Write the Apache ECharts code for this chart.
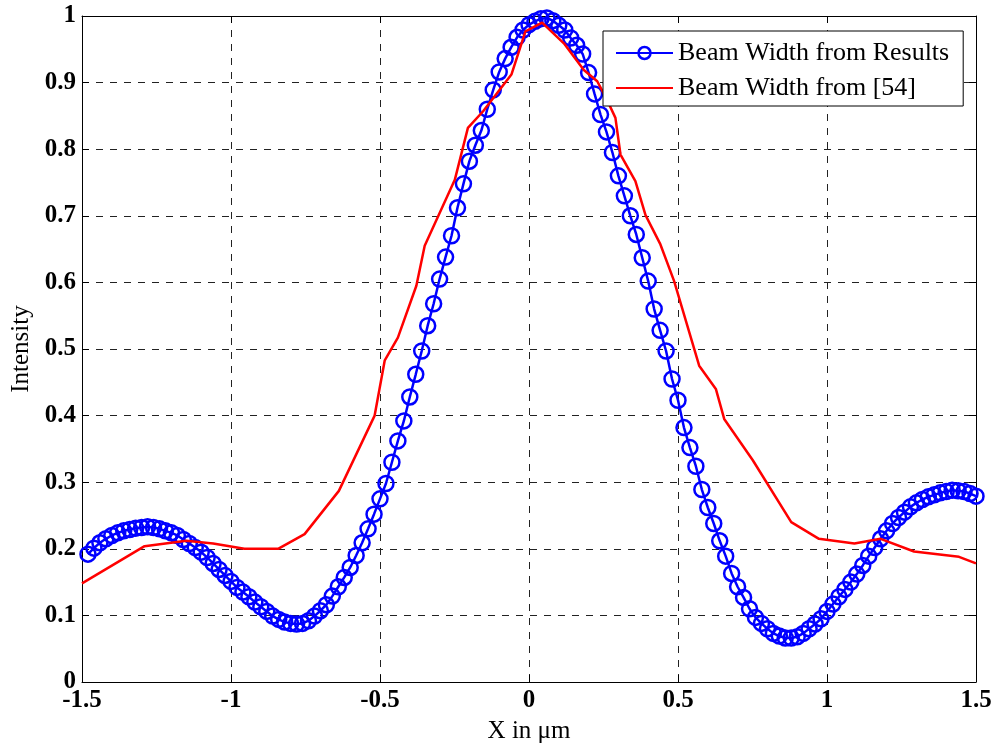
<!DOCTYPE html>
<html>
<head>
<meta charset="utf-8">
<script src="https://cdn.jsdelivr.net/npm/echarts@6/dist/echarts.min.js"></script>
<style>
html,body{margin:0;padding:0;background:#fff;}
#chart{width:995px;height:749px;}
</style>
</head>
<body>
<div id="chart"></div>
<script>
// Tick labels
const xTicks = [-1.5, -1, -0.5, 0, 0.5, 1, 1.5];
const yTicks = [0, 0.1, 0.2, 0.3, 0.4, 0.5, 0.6, 0.7, 0.8, 0.9, 1];

// Series 1: Beam Width from Results (x positions, intensity)
const blueX = [
-1.48,-1.46,-1.44,-1.42,-1.40,-1.38,-1.36,-1.34,-1.32,-1.30,
-1.28,-1.26,-1.24,-1.22,-1.20,-1.18,-1.16,-1.14,-1.12,-1.10,
-1.08,-1.06,-1.04,-1.02,-1.00,-0.98,-0.96,-0.94,-0.92,-0.90,
-0.88,-0.86,-0.84,-0.82,-0.80,-0.78,-0.76,-0.74,-0.72,-0.70,
-0.68,-0.66,-0.64,-0.62,-0.60,-0.58,-0.56,-0.54,-0.52,-0.50,
-0.48,-0.46,-0.44,-0.42,-0.40,-0.38,-0.36,-0.34,-0.32,-0.30,
-0.28,-0.26,-0.24,-0.22,-0.20,-0.18,-0.16,-0.14,-0.12,-0.10,
-0.08,-0.06,-0.04,-0.02,0.00,0.02,0.04,0.06,0.08,0.10,
0.12,0.14,0.16,0.18,0.20,0.22,0.24,0.26,0.28,0.30,
0.32,0.34,0.36,0.38,0.40,0.42,0.44,0.46,0.48,0.50,
0.52,0.54,0.56,0.58,0.60,0.62,0.64,0.66,0.68,0.70,
0.72,0.74,0.76,0.78,0.80,0.82,0.84,0.86,0.88,0.90,
0.92,0.94,0.96,0.98,1.00,1.02,1.04,1.06,1.08,1.10,
1.12,1.14,1.16,1.18,1.20,1.22,1.24,1.26,1.28,1.30,
1.32,1.34,1.36,1.38,1.40,1.42,1.44,1.46,1.48,1.50
];
const blueY = [
0.192,0.201,0.209,0.215,0.220,0.224,0.227,0.229,0.231,0.232,
0.233,0.232,0.230,0.227,0.224,0.220,0.214,0.208,0.202,0.195,
0.187,0.178,0.169,0.160,0.151,0.142,0.135,0.128,0.120,0.113,
0.106,0.099,0.094,0.090,0.088,0.087,0.088,0.092,0.099,0.107,
0.116,0.129,0.143,0.157,0.172,0.190,0.209,0.230,0.252,0.275,
0.298,0.330,0.362,0.392,0.428,0.462,0.497,0.535,0.568,0.605,
0.638,0.670,0.712,0.748,0.782,0.806,0.828,0.860,0.889,0.916,
0.936,0.953,0.968,0.979,0.987,0.992,0.996,0.997,0.993,0.986,
0.979,0.967,0.956,0.943,0.915,0.883,0.852,0.826,0.795,0.760,
0.730,0.700,0.672,0.637,0.602,0.560,0.528,0.497,0.455,0.423,
0.382,0.352,0.324,0.289,0.262,0.238,0.212,0.189,0.163,0.143,
0.127,0.110,0.097,0.088,0.080,0.073,0.069,0.066,0.066,0.068,
0.073,0.080,0.087,0.095,0.106,0.117,0.128,0.139,0.150,0.162,
0.175,0.189,0.202,0.215,0.227,0.238,0.247,0.255,0.263,0.269,
0.274,0.278,0.281,0.284,0.286,0.288,0.287,0.286,0.283,0.279
];

// Series 2: Beam Width from [54] (polyline vertices)
const redX = [-1.5,-1.29,-1.15,-1.06,-0.955,-0.842,-0.753,-0.638,-0.518,-0.484,
  -0.44,-0.378,-0.35,-0.249,-0.205,-0.154,-0.059,-0.012,0.044,0.117,
  0.184,0.229,0.262,0.29,0.307,0.357,0.391,0.441,0.487,0.571,
  0.627,0.655,0.751,0.88,0.973,1.092,1.18,1.292,1.443,1.5];
const redY = [0.148,0.204,0.212,0.208,0.2,0.2,0.222,0.287,0.4,0.483,
  0.517,0.595,0.655,0.754,0.832,0.857,0.912,0.977,0.99,0.959,
  0.919,0.902,0.874,0.847,0.792,0.752,0.701,0.657,0.602,0.475,
  0.44,0.395,0.333,0.24,0.215,0.208,0.215,0.196,0.188,0.178];

const seriesNames = ['Beam Width from Results', 'Beam Width from [54]'];

const FONT = '"Liberation Serif", "Times New Roman", serif';
const blueData = blueX.map((x, i) => [x, blueY[i]]);
const redData = redX.map((x, i) => [x, redY[i]]);

const chart = echarts.init(document.getElementById('chart'), null, {renderer: 'canvas'});

const gridDash = {show: true, lineStyle: {color: '#222', width: 1, type: [7, 7]}};
const tickStyle = {show: true, inside: true, length: 7, lineStyle: {color: '#000', width: 1}};

chart.setOption({
  animation: false,
  backgroundColor: '#fff',
  grid: {left: 82, right: 19, top: 16, bottom: 65, containLabel: false},
  legend: {
    orient: 'vertical',
    left: 603, top: 31,
    padding: [7, 14, 3, 12],
    itemGap: 5,
    itemWidth: 57, itemHeight: 15,
    backgroundColor: '#fff',
    borderColor: '#000', borderWidth: 1, borderRadius: 0,
    textStyle: {fontFamily: FONT, fontSize: 26, color: '#000', lineHeight: 30},
    data: [
      {name: seriesNames[0], itemStyle: {color: 'rgba(0,0,0,0)', borderColor: '#0000ff', borderWidth: 2.5}},
      {name: seriesNames[1], itemStyle: {color: 'rgba(0,0,0,0)', borderColor: 'rgba(0,0,0,0)', borderWidth: 0}}
    ]
  },
  xAxis: [{
    type: 'value', min: -1.5, max: 1.5, interval: 0.5,
    position: 'bottom',
    name: 'X in \u03bcm', nameLocation: 'middle', nameGap: 37,
    nameTextStyle: {fontFamily: FONT, fontSize: 25, color: '#000'},
    axisLine: {show: true, onZero: false, lineStyle: {color: '#000', width: 1}},
    axisTick: tickStyle,
    axisLabel: {fontFamily: FONT, fontSize: 25, fontWeight: 'bold', color: '#000', margin: 6,
      formatter: v => { const t = xTicks.find(k => Math.abs(k - v) < 1e-9); return t === undefined ? '' : String(t); }},
    splitLine: gridDash
  }, {
    type: 'value', min: -1.5, max: 1.5, interval: 0.5,
    position: 'top',
    axisLine: {show: true, onZero: false, lineStyle: {color: '#000', width: 1}},
    axisTick: tickStyle,
    axisLabel: {show: false},
    splitLine: {show: false}
  }],
  yAxis: [{
    type: 'value', min: 0, max: 1, interval: 0.1,
    position: 'left',
    name: 'Intensity', nameLocation: 'middle', nameGap: 48,
    nameTextStyle: {fontFamily: FONT, fontSize: 25, color: '#000'},
    axisLine: {show: true, onZero: false, lineStyle: {color: '#000', width: 1}},
    axisTick: tickStyle,
    axisLabel: {fontFamily: FONT, fontSize: 25, fontWeight: 'bold', color: '#000', margin: 6,
      formatter: v => { const t = yTicks.find(k => Math.abs(k - v) < 1e-9); return t === undefined ? '' : String(t); }},
    splitLine: gridDash
  }, {
    type: 'value', min: 0, max: 1, interval: 0.1,
    position: 'right',
    axisLine: {show: true, onZero: false, lineStyle: {color: '#000', width: 1}},
    axisTick: tickStyle,
    axisLabel: {show: false},
    splitLine: {show: false}
  }],
  series: [{
    name: seriesNames[0],
    type: 'line',
    data: blueData,
    clip: false,
    symbol: 'circle',
    symbolSize: 15,
    showAllSymbol: true,
    lineStyle: {color: '#0000ff', width: 2.5},
    itemStyle: {color: 'rgba(0,0,0,0)', borderColor: '#0000ff', borderWidth: 2.5},
    emphasis: {disabled: true},
    z: 2
  }, {
    name: seriesNames[1],
    type: 'line',
    data: redData,
    clip: false,
    symbol: 'none',
    lineStyle: {color: '#ff0000', width: 2.5},
    itemStyle: {color: '#ff0000'},
    emphasis: {disabled: true},
    z: 3
  }]
});
</script>
</body>
</html>
